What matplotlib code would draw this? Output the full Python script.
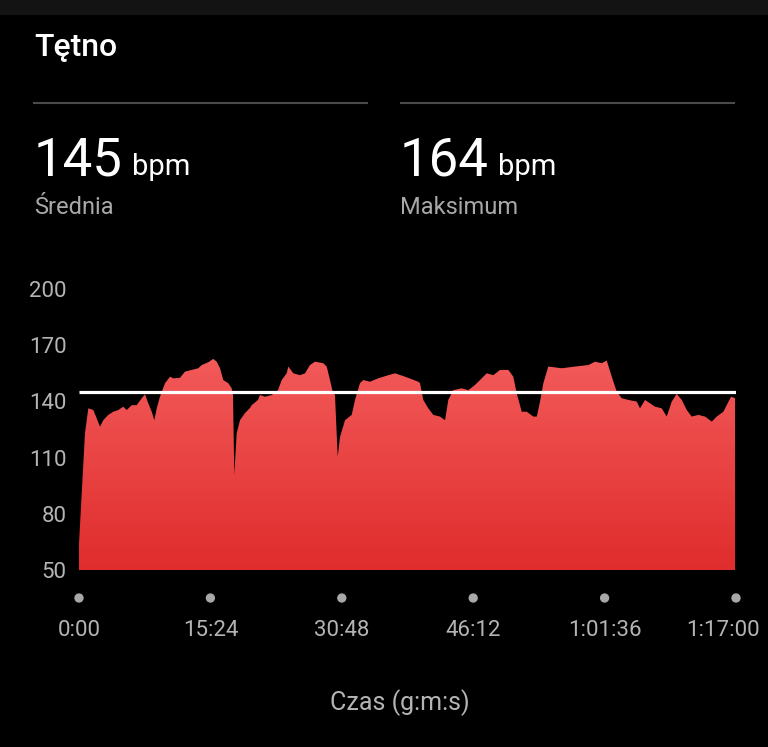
import numpy as np
import matplotlib
matplotlib.use("Agg")
import matplotlib.pyplot as plt
from matplotlib.colors import LinearSegmentedColormap
from matplotlib.patches import Rectangle
import matplotlib.transforms as mtransforms

# heart rate trace: time (minutes) and bpm
minutes = [0, 0.70, 1.09, 1.68, 2.07, 2.46, 2.85, 3.43, 4.02, 4.61, 5.19, 5.59, 6.18,
           6.76, 7.35, 7.74, 8.12, 8.52, 8.83, 9.11, 9.49, 10.08, 10.67, 11.05, 11.84,
           12.42, 13.21, 13.98, 14.38, 15.15, 15.74, 16.14, 16.53, 16.91, 17.50, 17.90,
           18.05, 18.20, 18.48, 18.87, 19.46, 20.04,
           20.24, 20.98, 21.21, 21.80, 22.59, 23.32, 23.76, 24.34, 24.53, 25.12, 25.90,
           26.49, 27.07, 27.66, 28.63, 29.03, 29.42, 29.69, 30.00, 30.32, 30.59, 31.18,
           31.96, 32.35, 32.93, 33.32, 34.11, 35.04, 36.25, 37.04, 38.21, 39.77, 39.97,
           40.35, 40.94, 41.53, 42.31, 42.90, 43.28, 43.87, 44.85, 45.63, 46.41, 47.00,
           47.78, 48.56, 49.34, 50.32, 50.90, 51.30, 51.89, 52.47, 53.25, 53.65, 54.03,
           54.42, 55.00, 56.58, 58.13, 59.69, 60.48, 61.26, 61.85, 62.44, 63.02, 63.61,
           64.38, 65.37, 65.75, 66.34, 66.92, 67.51, 68.30, 68.88, 69.47, 70.05, 70.64,
           71.23, 71.81, 72.59, 73.37, 74.16, 74.74, 75.52, 75.91, 76.42, 76.89]
bpm = [64, 123, 136.3, 135.4, 131, 126.5, 130, 132.8, 134.5, 135.4, 137.2, 135.4, 138,
       138, 141.7, 143.8, 139, 134.5, 130, 136.3, 142.5, 149.7, 153.2, 152.3, 152.6,
       155.9, 156.8, 157.7, 159.4, 160.9, 162.7, 161.2, 157.7, 151.4, 149.7, 147,
       143.4, 100.7, 123, 130, 133.8, 136.5,
       138, 140.8, 143.4, 142.5, 143.4, 146, 151.4, 155, 158.6, 155, 154,
       155, 159.4, 161.2, 160.4, 158.6, 151.4, 146, 143.4, 110.5, 121, 130,
       132.8, 140.8, 149.7, 151.4, 150.5, 152.3, 154, 155, 153.2, 150.5, 149.7,
       140.8, 136.3, 132.8, 131.9, 130, 140.8, 146, 147, 146, 148.8, 151.4,
       155, 154, 156.8, 156.8, 153.2, 144.3, 134.5, 134.5, 131.9, 131.9, 139.9,
       149.7, 158.6, 157.7, 158.6, 159.4, 161.2, 160.4, 161.8, 153.2, 145.2, 141.7,
       140.8, 139.9, 136.3, 140.8, 139, 137.2, 136.3, 131.9, 139.9, 144, 140.8,
       135.4, 131.9, 132.8, 131.9, 129.2, 131.9, 134.5, 138, 142.5, 141.7]
average = 145
maximum = 164
x_ticks = [0, 15.4, 30.8, 46.2, 61.6, 77]
x_labels = ["0:00", "15:24", "30:48", "46:12", "1:01:36", "1:17:00"]
y_ticks = [50, 80, 110, 140, 170, 200]

plt.rcParams['font.family'] = ['Roboto', 'DejaVu Sans']

fig = plt.figure(figsize=(7.68, 7.47), dpi=100, facecolor='black')
W, H = 768, 747

# status strip at the very top
fig.patches.append(Rectangle((0, 1 - 15 / H), 1, 15 / H, transform=fig.transFigure,
                             facecolor='#131313', edgecolor='none'))

fig.text(34 / W, 1 - 47 / H, "Tętno", color='white', fontsize=23, fontweight='medium',
         va='center', ha='left')
for x0, x1 in [(34, 367), (401, 734)]:
    fig.add_artist(plt.Line2D([x0 / W, x1 / W], [1 - 103 / H] * 2, color='#4a4a4a',
                              lw=1.5, transform=fig.transFigure))

for xs, val, name in [(34, average, "Średnia"), (400, maximum, "Maksimum")]:
    t = fig.text(xs / W, 1 - 175 / H, str(val), color='white', fontsize=38,
                 fontweight='normal', va='baseline', ha='left')
    fig.canvas.draw()
    bb = t.get_window_extent()
    fig.text((bb.x1 + 9) / W, 1 - 175 / H, "bpm", color='white', fontsize=21,
             va='baseline', ha='left')
    fig.text(xs / W, 1 - 208 / H, name, color='#a8a8a8', fontsize=17,
             va='center', ha='left')

ax = fig.add_axes([79 / W, (H - 570) / H, 657 / W, 281 / H])
ax.set_facecolor('black')
ax.set_xlim(0, 77)
ax.set_ylim(50, 200)
for s in ax.spines.values():
    s.set_visible(False)

# gradient red area
cmap = LinearSegmentedColormap.from_list('hr', ['#e02c2c', '#f35b5b'])
grad = np.linspace(0, 1, 256).reshape(-1, 1)
im = ax.imshow(grad, cmap=cmap, origin='lower', aspect='auto',
               extent=[0, 77, 50, 165], zorder=1)
poly = ax.fill_between(minutes, 50, bpm, facecolor='none', edgecolor='none')
path = poly.get_paths()[0]
im.set_clip_path(path, transform=ax.transData)

ax.plot([0, 77], [average, average], color='white', lw=2.3, zorder=3,
        solid_capstyle='butt')

ax.set_yticks(y_ticks)
ax.set_yticklabels([str(v) for v in y_ticks])
ax.set_xticks(x_ticks)
ax.set_xticklabels(x_labels)
ax.tick_params(axis='y', length=0, pad=9, labelsize=16, labelcolor='#b4b4b4')
ax.tick_params(axis='x', length=0, pad=36, labelsize=16, labelcolor='#b4b4b4')

# last time label is pulled in so it stays inside the screen
last = ax.get_xticklabels()[-1]
last.set_transform(last.get_transform() +
                   mtransforms.ScaledTranslation(-13 / 100, 0, fig.dpi_scale_trans))

trans = mtransforms.blended_transform_factory(ax.transData, ax.transAxes)
ax.scatter(x_ticks, [-28 / 281] * len(x_ticks), s=45, color='#a8a8a8',
           transform=trans, clip_on=False, zorder=4, edgecolors='none')

fig.text(400 / W, 1 - 703 / H, "Czas (g:m:s)", color='#b4b4b4', fontsize=18,
         ha='center', va='center')

fig.savefig("out.png", dpi=100, facecolor='black')
